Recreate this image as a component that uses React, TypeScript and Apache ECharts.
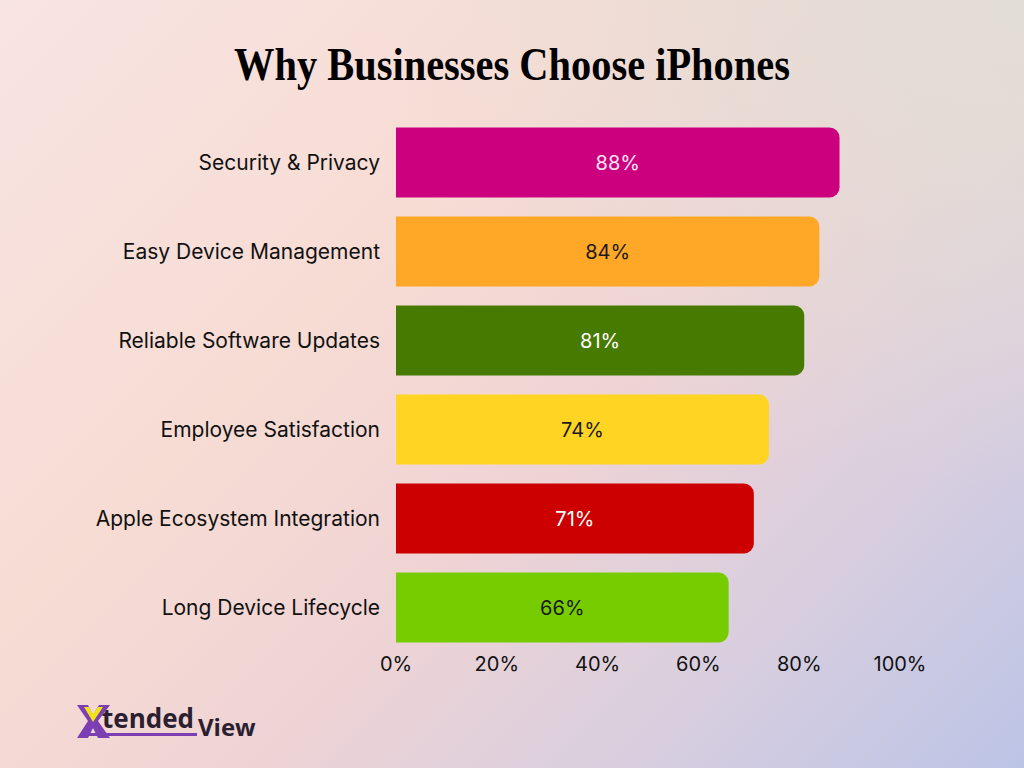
import React, { useEffect, useRef } from "react";
import * as echarts from "echarts";

const categories = [
  "Security & Privacy",
  "Easy Device Management",
  "Reliable Software Updates",
  "Employee Satisfaction",
  "Apple Ecosystem Integration",
  "Long Device Lifecycle",
];
const values = [88, 84, 81, 74, 71, 66];
const barColors = ["#cc007f", "#ffa726", "#467a00", "#ffd422", "#cc0000", "#77cc00"];
const labelColors = ["#ffe4f4", "#1a1a1a", "#ffffff", "#1a1a1a", "#ffffff", "#1a1a1a"];

export default function App() {
  const ref = useRef<HTMLDivElement>(null);
  useEffect(() => {
    if (!ref.current) return;
    const chart = echarts.init(ref.current, null, { renderer: "svg" });
    chart.setOption({
      animation: false,
      backgroundColor: "transparent",
      grid: { left: 396, right: 124, top: 118, height: 534, containLabel: false },
      xAxis: {
        type: "value",
        min: 0,
        max: 100,
        interval: 20,
        axisLine: { show: false },
        axisTick: { show: false },
        splitLine: { show: false },
        axisLabel: {
          formatter: "{value}%",
          fontFamily: "Inter",
          fontSize: 20,
          color: "#111",
          margin: 2,
        },
      },
      yAxis: {
        type: "category",
        inverse: true,
        data: categories,
        axisLine: { show: false },
        axisTick: { show: false },
        axisLabel: {
          fontFamily: "Inter",
          fontSize: 21,
          color: "#111",
          margin: 16,
        },
      },
      series: [
        {
          type: "bar",
          barWidth: 70,
          data: values.map((v, i) => ({
            value: v,
            itemStyle: { color: barColors[i], borderRadius: [0, 10, 10, 0] },
            label: { color: labelColors[i] },
          })),
          label: {
            show: true,
            position: "inside",
            formatter: "{c}%",
            fontFamily: "Inter",
            fontSize: 20,
          },
        },
      ],
      graphic: [
        {
          type: "text",
          x: 512,
          y: 64,
          scaleX: 0.86,
          style: {
            text: "Why Businesses Choose iPhones",
            align: "center",
            verticalAlign: "middle",
            fontFamily: "Liberation Serif",
            fontWeight: 900,
            fontSize: 47,
            fill: "#000",
          },
        },
        {
          type: "rect",
          shape: { x: 84, y: 733, width: 113, height: 3 },
          style: { fill: "#7b3fb3" },
        },
        {
          type: "polygon",
          shape: {
            points: [[77, 705], [88, 705], [93, 715], [99, 705], [110, 705], [98, 721], [110, 738], [98, 738], [93, 728], [88, 738], [77, 738], [88, 721]],
          },
          style: { fill: "#7b3fb3" },
        },
        {
          type: "polygon",
          shape: { points: [[84, 707], [89, 707], [93, 714], [98, 707], [103, 707], [93, 722]] },
          style: { fill: "#f2e318" },
        },
        {
          type: "text",
          x: 102,
          y: 718,
          style: {
            text: "tended",
            verticalAlign: "middle",
            fontFamily: "Open Sans",
            fontWeight: "bold",
            fontSize: 26,
            fill: "#2a2030",
          },
        },
        {
          type: "text",
          x: 198,
          y: 726,
          style: {
            text: "View",
            verticalAlign: "middle",
            fontFamily: "Open Sans",
            fontWeight: "bold",
            fontSize: 24,
            fill: "#2a2030",
          },
        },
      ],
    });
    return () => chart.dispose();
  }, []);
  return (
    <div
      style={{
        position: "fixed",
        left: 0,
        top: 0,
        width: 1024,
        height: 768,
        background:
          "radial-gradient(ellipse at 100% 0%, rgba(226,222,214,1) 0%, rgba(226,222,214,0) 45%), linear-gradient(135deg, #f8e4e2 0%, #f7dcd4 35%, #f0d4d4 55%, #d8cedf 78%, #bcc4e6 100%)",
      }}
    >
      <div ref={ref} style={{ width: 1024, height: 768 }} />
    </div>
  );
}
